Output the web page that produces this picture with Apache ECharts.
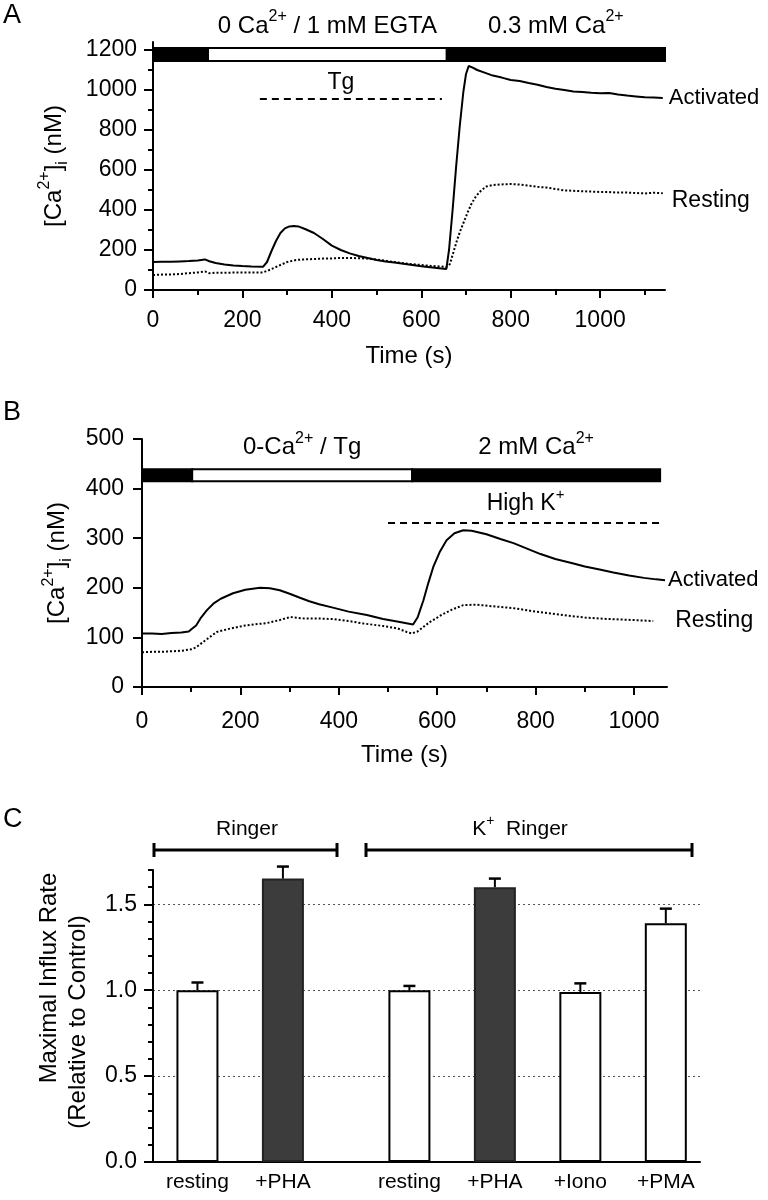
<!DOCTYPE html>
<html><head><meta charset="utf-8">
<script src="https://cdn.jsdelivr.net/npm/echarts@6/dist/echarts.min.js"></script>
<style>html,body{margin:0;padding:0;background:#fff}#c{width:768px;height:1200px}</style>
</head><body><div id="c"></div>
<script>
// ---------- Panel A data ----------
const timesActA = [0,20,40,60,80,100,116,126,140,160,180,200,220,246,255,265,275,285,295,305,315,325,340,360,380,400,420,440,460,480,500,520,540,560,580,600,620,640,656,662,670,678,686,694,700,706,715,725,740,760,780,800,820,840,860,880,900,920,940,960,980,1000,1020,1040,1060,1080,1100,1120,1140];
const actA = [140,141,141,143,145,148,153,144,135,128,123,120,118,116,140,195,245,285,308,318,320,318,305,285,255,222,200,183,170,160,150,143,137,131,125,119,114,109,105,200,400,620,820,990,1080,1120,1112,1100,1088,1072,1062,1050,1045,1035,1026,1015,1006,1000,992,990,986,984,985,977,972,968,964,962,960];
const timesRestA = [0,20,40,60,80,100,116,126,140,160,180,200,220,246,260,280,300,320,340,360,380,400,420,440,460,480,500,520,540,560,580,600,620,640,656,664,672,680,688,696,704,712,722,734,746,760,780,800,820,840,860,880,900,920,940,960,980,1000,1020,1040,1060,1080,1100,1120,1140];
const restA = [75,77,78,80,84,88,93,84,86,86,87,88,88,88,100,120,140,150,153,155,157,158,160,160,159,157,152,146,140,134,129,125,121,118,115,130,190,250,300,345,390,430,468,498,518,525,528,530,527,522,516,512,505,498,496,494,492,490,490,487,487,485,483,486,484];
const periodStartA = [0,123,657];
const periodEndA = [123,657,1145];
const periodFreeA = [false,true,false];
const periodLabelA = ['', '{n|0 Ca}{sup|2+}{n| / 1 mM EGTA}', '{n|0.3 mM Ca}{sup|2+}'];
const tgA = [239, 646, 955];           // start (s), end (s), level (nM)
const xTicksA = [0,200,400,600,800,1000];
const xMinorA = [100,300,500,700,900,1100];
const yTicksA = [0,200,400,600,800,1000,1200];
const yMinorA = [100,300,500,700,900,1100];

// ---------- Panel B data ----------
const timesActB = [0,20,40,60,80,95,101,110,120,132,145,160,185,210,240,260,280,300,321,340,360,388,420,457,490,524,551,560,572,582,592,605,619,635,653,670,700,730,755,780,810,840,877,900,930,958,990,1020,1045,1063];
const actB = [108,108,107,109,110,112,117,124,140,155,168,178,189,196,200,199,195,188,180,173,167,160,152,145,137,131,126,140,175,210,242,272,296,310,316,315,308,298,290,280,268,258,249,243,237,231,225,220,217,215];
const timesRestB = [0,20,40,60,80,100,110,130,152,180,210,254,280,301,330,360,388,420,450,490,520,538,548,560,585,610,630,653,680,710,755,800,856,900,950,1000,1039];
const restB = [70,71,71,72,73,76,80,95,111,118,124,129,135,141,138,138,137,133,128,123,118,111,108,112,131,146,156,165,166,163,159,152,145,140,137,135,133];
const periodStartB = [0,102,549];
const periodEndB = [102,549,1053];
const periodFreeB = [false,true,false];
const periodLabelB = ['', '{n|0-Ca}{sup|2+}{n| / Tg}', '{n|2 mM Ca}{sup|2+}'];
const highKB = [500, 1059, 332];
const xTicksB = [0,200,400,600,800,1000];
const xMinorB = [100,300,500,700,900];

// ---------- Panel C data ----------
const categoriesC = ['resting','+PHA','resting','+PHA','+Iono','+PMA'];
const groupOfC = [0,0,1,1,1,1];
const groupNamesC = ['{n|Ringer}', '{n|K}{sup|+}{n|  Ringer}'];
const valuesC = [1.0, 1.65, 1.0, 1.6, 0.99, 1.39];
const errorsC = [0.045, 0.07, 0.025, 0.05, 0.05, 0.085];
const yTicksC = [0,0.5,1.0,1.5];

// ---------- helpers ----------
const FONT = '"Liberation Sans", Arial, Helvetica, sans-serif';
function rich(size) {
  const s = Math.round(size * 0.66);
  return {
    n: {fontSize: size, fontFamily: FONT, color: '#000', lineHeight: Math.round(size * 1.4), verticalAlign: 'middle'},
    sup: {fontSize: s, fontFamily: FONT, color: '#000', lineHeight: s, verticalAlign: 'top'},
    sub: {fontSize: s, fontFamily: FONT, color: '#000', lineHeight: s, verticalAlign: 'bottom'}
  };
}
const zip = (a, b) => a.map((v, i) => [v, b[i]]);
function barArea(starts, ends, free, labels, y0, y1, fs) {
  return starts.map((s, i) => [
    {xAxis: s, yAxis: y0,
     itemStyle: {color: free[i] ? '#fff' : '#000', borderColor: '#000', borderWidth: 2, opacity: 1},
     label: {show: !!labels[i], position: 'top', distance: 4, formatter: labels[i], rich: rich(fs)}},
    {xAxis: ends[i], yAxis: y1}
  ]);
}
const blackLine = {lineStyle: {color: '#000', width: 2}};
const plain = v => String(v);
const lbl = (fs, margin) => ({fontSize: fs, fontFamily: FONT, color: '#000', margin: margin, formatter: plain});

const posC = categoriesC.map((c, i) => i + 0.52 + groupOfC[i] * 0.48);
const darkC = categoriesC.map(c => c.indexOf('PHA') >= 0);

const chart = echarts.init(document.getElementById('c'), null, {renderer: 'canvas'});
const option = {
  animation: false,
  backgroundColor: '#fff',
  grid: [
    {left: 153, right: 103, top: 42, bottom: 910},
    {left: 142, right: 101, top: 439, bottom: 513},
    {left: 153, right: 68, top: 870, bottom: 38}
  ],
  xAxis: [
    {gridIndex: 0, type: 'value', min: 0, max: 1145, position: 'bottom',
     axisLine: blackLine, splitLine: {show: false},
     axisTick: {customValues: xTicksA, length: 8, lineStyle: {color: '#000', width: 2}},
     axisLabel: Object.assign(lbl(23, 19), {customValues: xTicksA}),
     name: 'Time (s)', nameLocation: 'middle', nameGap: 54,
     nameTextStyle: {fontSize: 24, fontFamily: FONT, color: '#000'}},
    {gridIndex: 0, type: 'value', min: 0, max: 1145, position: 'bottom',
     axisLine: {show: false}, splitLine: {show: false}, axisLabel: {show: false},
     axisTick: {customValues: xMinorA, length: 5, lineStyle: {color: '#000', width: 2}}},
    {gridIndex: 1, type: 'value', min: 0, max: 1067, position: 'bottom',
     axisLine: blackLine, splitLine: {show: false},
     axisTick: {customValues: xTicksB, length: 8, lineStyle: {color: '#000', width: 2}},
     axisLabel: Object.assign(lbl(23, 23), {customValues: xTicksB}),
     name: 'Time (s)', nameLocation: 'middle', nameGap: 56,
     nameTextStyle: {fontSize: 24, fontFamily: FONT, color: '#000'}},
    {gridIndex: 1, type: 'value', min: 0, max: 1067, position: 'bottom',
     axisLine: {show: false}, splitLine: {show: false}, axisLabel: {show: false},
     axisTick: {customValues: xMinorB, length: 5, lineStyle: {color: '#000', width: 2}}},
    {gridIndex: 2, type: 'value', min: 0, max: 6.4, position: 'bottom',
     axisLine: blackLine, splitLine: {show: false}, axisTick: {show: false},
     axisLabel: Object.assign(lbl(21, 10), {customValues: posC, formatter: v => {
       let k = 0, d = 1e9; posC.forEach((p, i) => { if (Math.abs(p - v) < d) { d = Math.abs(p - v); k = i; } });
       return categoriesC[k]; }})}
  ],
  yAxis: [
    {gridIndex: 0, type: 'value', min: 0, max: 1240, position: 'left',
     axisLine: blackLine, splitLine: {show: false},
     axisTick: {customValues: yTicksA, length: 9, lineStyle: {color: '#000', width: 2}},
     axisLabel: Object.assign(lbl(23, 16), {customValues: yTicksA}),
     name: '{n|[Ca}{sup|2+}{n|]}{sub|i}{n| (nM)}', nameLocation: 'middle', nameGap: 82, nameRotate: 90,
     nameTextStyle: {rich: rich(24)}},
    {gridIndex: 0, type: 'value', min: 0, max: 1240, position: 'left',
     axisLine: {show: false}, splitLine: {show: false}, axisLabel: {show: false},
     axisTick: {customValues: yMinorA, length: 5, lineStyle: {color: '#000', width: 2}}},
    {gridIndex: 1, type: 'value', min: 0, max: 500, interval: 100, position: 'left',
     axisLine: blackLine, splitLine: {show: false},
     axisTick: {length: 9, lineStyle: {color: '#000', width: 2}},
     axisLabel: lbl(23, 18),
     name: '{n|[Ca}{sup|2+}{n|]}{sub|i}{n| (nM)}', nameLocation: 'middle', nameGap: 66, nameRotate: 90,
     nameTextStyle: {rich: rich(24)}},
    {gridIndex: 2, type: 'value', min: 0, max: 1.7, interval: 0.1, position: 'left',
     axisLine: blackLine, splitLine: {show: false},
     axisTick: {length: 5, lineStyle: {color: '#000', width: 2}},
     axisLabel: Object.assign(lbl(23, 16), {customValues: yTicksC, formatter: v => v.toFixed(1)}),
     name: 'Maximal Influx Rate', nameLocation: 'middle', nameGap: 92, nameRotate: 90,
     nameTextStyle: {fontSize: 24, fontFamily: FONT, color: '#000', padding: [0, 0, 0, 76]}},
    {gridIndex: 2, type: 'value', min: 0, max: 1.7, interval: 0.5, position: 'left',
     axisLine: {show: false}, axisLabel: {show: false},
     axisTick: {customValues: yTicksC, length: 9, lineStyle: {color: '#000', width: 2}},
     splitLine: {show: true, showMinLine: false, showMaxLine: true, lineStyle: {color: '#555', width: 1, type: [2, 3]}},
     name: '(Relative to Control)', nameLocation: 'middle', nameGap: 63, nameRotate: 90,
     nameTextStyle: {fontSize: 24, fontFamily: FONT, color: '#000', padding: [0, 12, 0, 0]}}
  ],
  series: [
    {type: 'line', name: 'Activated A', xAxisIndex: 0, yAxisIndex: 0, data: zip(timesActA, actA),
     showSymbol: false, symbol: 'none', lineStyle: {color: '#000', width: 2}, z: 3,
     endLabel: {show: true, formatter: 'Activated', fontSize: 22, fontFamily: FONT, color: '#000', distance: 6},
     markArea: {silent: true, data: barArea(periodStartA, periodEndA, periodFreeA, periodLabelA, 1145, 1210, 24)},
     markLine: {silent: true, symbol: ['none', 'none'],
       lineStyle: {color: '#000', type: [7, 5], width: 2},
       label: {show: true, position: 'insideMiddleTop', formatter: 'Tg', fontSize: 23, fontFamily: FONT, color: '#000', distance: 5, offset: [-10, 0]},
       data: [[{coord: [tgA[0], tgA[2]]}, {coord: [tgA[1], tgA[2]]}]]}},
    {type: 'line', name: 'Resting A', xAxisIndex: 0, yAxisIndex: 0, data: zip(timesRestA, restA),
     showSymbol: false, symbol: 'none', lineStyle: {color: '#000', width: 2, type: [2, 2]}, z: 2,
     endLabel: {show: true, formatter: 'Resting', fontSize: 23, fontFamily: FONT, color: '#000', distance: 9, offset: [0, 7]}},
    {type: 'line', name: 'Activated B', xAxisIndex: 2, yAxisIndex: 2, data: zip(timesActB, actB),
     showSymbol: false, symbol: 'none', lineStyle: {color: '#000', width: 2}, z: 3,
     endLabel: {show: true, formatter: 'Activated', fontSize: 22, fontFamily: FONT, color: '#000', distance: 3},
     markArea: {silent: true, data: barArea(periodStartB, periodEndB, periodFreeB, periodLabelB, 415, 439, 24)},
     markLine: {silent: true, symbol: ['none', 'none'],
       lineStyle: {color: '#000', type: [7, 5], width: 2},
       label: {show: true, position: 'insideMiddleTop', formatter: '{n|High K}{sup|+}', rich: rich(23), distance: 3},
       data: [[{coord: [highKB[0], highKB[2]]}, {coord: [highKB[1], highKB[2]]}]]}},
    {type: 'line', name: 'Resting B', xAxisIndex: 2, yAxisIndex: 2, data: zip(timesRestB, restB),
     showSymbol: false, symbol: 'none', lineStyle: {color: '#000', width: 2, type: [2, 2]}, z: 2,
     endLabel: {show: true, formatter: 'Resting', fontSize: 23, fontFamily: FONT, color: '#000', distance: 22}},
    {type: 'bar', name: 'Influx', xAxisIndex: 4, yAxisIndex: 3, barWidth: 42, z: 3,
     data: valuesC.map((v, i) => ({value: [posC[i], v],
       itemStyle: {color: darkC[i] ? '#3c3c3c' : '#fff', borderColor: darkC[i] ? '#222' : '#000', borderWidth: 2}}))},
    {type: 'custom', name: 'err', xAxisIndex: 4, yAxisIndex: 3, z: 4, clip: false,
     data: valuesC.map((v, i) => [posC[i], v, errorsC[i]]),
     renderItem: (params, api) => {
       const x = api.value(0), v = api.value(1), e = api.value(2);
       const p0 = api.coord([x, v]), p1 = api.coord([x, v + e]);
       return {type: 'group', children: [
         {type: 'line', shape: {x1: p0[0], y1: p0[1], x2: p1[0], y2: p1[1]}, style: {stroke: '#000', lineWidth: 2}},
         {type: 'line', shape: {x1: p1[0] - 6, y1: p1[1], x2: p1[0] + 6, y2: p1[1]}, style: {stroke: '#000', lineWidth: 2.5}}
       ]};
     }}
  ],
  graphic: [
    {type: 'text', x: 3, y: 2, style: {text: 'A', fontSize: 27, fontFamily: FONT, fill: '#000'}},
    {type: 'text', x: 3, y: 399, style: {text: 'B', fontSize: 27, fontFamily: FONT, fill: '#000'}},
    {type: 'text', x: 3, y: 806, style: {text: 'C', fontSize: 27, fontFamily: FONT, fill: '#000'}},
    {type: 'text', x: 247, y: 829, style: {text: groupNamesC[0], rich: rich(21), align: 'center', verticalAlign: 'middle', textAlign: 'center', textVerticalAlign: 'middle'}},
    {type: 'text', x: 520, y: 829, style: {text: groupNamesC[1], rich: rich(21), align: 'center', verticalAlign: 'middle', textAlign: 'center', textVerticalAlign: 'middle'}},
    {type: 'line', shape: {x1: 153, y1: 850, x2: 338, y2: 850}, style: {stroke: '#000', lineWidth: 3}},
    {type: 'line', shape: {x1: 154, y1: 843, x2: 154, y2: 857}, style: {stroke: '#000', lineWidth: 3}},
    {type: 'line', shape: {x1: 337, y1: 843, x2: 337, y2: 857}, style: {stroke: '#000', lineWidth: 3}},
    {type: 'line', shape: {x1: 365, y1: 850, x2: 693, y2: 850}, style: {stroke: '#000', lineWidth: 3}},
    {type: 'line', shape: {x1: 366, y1: 843, x2: 366, y2: 857}, style: {stroke: '#000', lineWidth: 3}},
    {type: 'line', shape: {x1: 692, y1: 843, x2: 692, y2: 857}, style: {stroke: '#000', lineWidth: 3}}
  ]
};
chart.setOption(option);
</script>
</body></html>
